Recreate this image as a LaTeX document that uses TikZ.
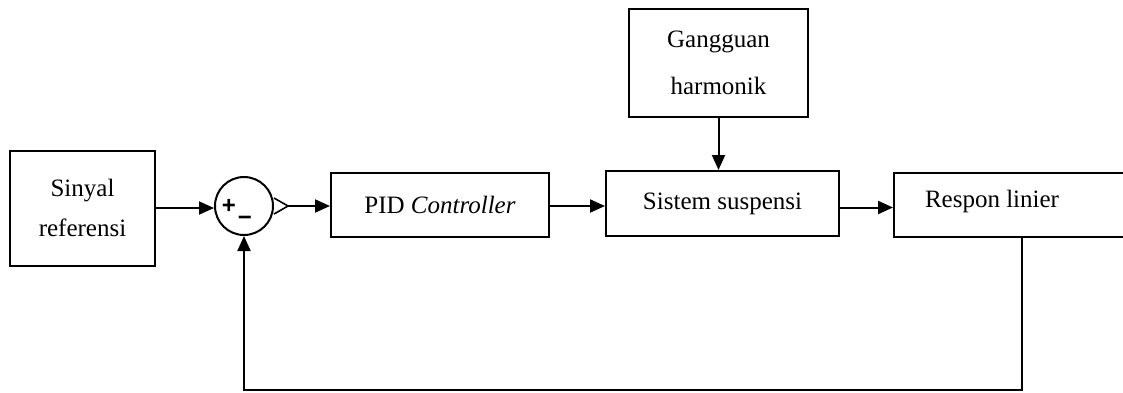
\documentclass[tikz,border=0pt]{standalone}
\usepackage{fontspec}
\setmainfont{Liberation Serif}
\newfontfamily\signfont{Liberation Sans}
\usetikzlibrary{arrows.meta,calc}
\tikzset{
	blok/.style={draw, line width=2pt, anchor=north west, align=center, inner sep=0pt},
	panah/.style={-{Triangle[length=15pt,width=13pt]}, line width=2pt},
	tanda/.style={font=\signfont\bfseries\fontsize{24}{24}\selectfont, inner sep=0pt}
}
\begin{document}
\begin{tikzpicture}[x=1pt, y=-1pt, font=\fontsize{25}{40}\selectfont, line join=miter]
	\useasboundingbox (0,0) rectangle (1123,392);
	% blok-blok
	\node[blok, minimum width=145pt, minimum height=115pt] (sinyal) at (9,150) {\raisebox{5pt}{\begin{tabular}{@{}c@{}}Sinyal\\referensi\end{tabular}}};
	\node[blok, minimum width=179pt, minimum height=108pt] (gangguan) at (628,8) {\raisebox{5pt}{\begin{tabular}{@{}c@{}}Gangguan\\[7pt]harmonik\end{tabular}}};
	\node[blok, minimum width=218pt, minimum height=64pt] (pid) at (330,172) {PID \textit{Controller}};
	\node[blok, minimum width=233pt, minimum height=65pt] (sistem) at (605,170) {\raisebox{5pt}{Sistem suspensi}};
	\node[blok, minimum width=240pt, minimum height=64pt] (respon) at (893,172) {};
	\node (teksrespon) at (992,201) {Respon linier};
	% titik penjumlahan
	\node[draw, circle, line width=2pt, minimum size=58pt, inner sep=0pt] (sum) at (244,206) {};
	\node[tanda] (plus) at (229,206) {+};
	\node[tanda] (minus) at (245,221) {−};
	\draw[line width=1.6pt, line join=round] (sum.east) ++(0,-8) coordinate (t1) -- ++(14,8) coordinate (tip) -- ++(-14,8) coordinate (t2);
	% panah
	\draw[panah] (sinyal.east |- 0,208) -- (sinyal.east |- 0,208 -| sum.west);
	\draw[panah] (tip) -- (tip -| pid.west);
	\draw[panah] ([yshift=-1pt]pid.east) -- ([yshift=-1pt]pid.east -| sistem.west);
	\draw[panah] (gangguan.south) -- (gangguan.south |- sistem.north);
	\draw[panah] ([yshift=-4pt]sistem.east) -- ([yshift=-4pt]sistem.east -| respon.west);
	% umpan balik
	\coordinate (fb) at (1022,390);
	\draw[panah] (fb |- respon.south) -- (fb) -| (sum.south);
\end{tikzpicture}
\end{document}
